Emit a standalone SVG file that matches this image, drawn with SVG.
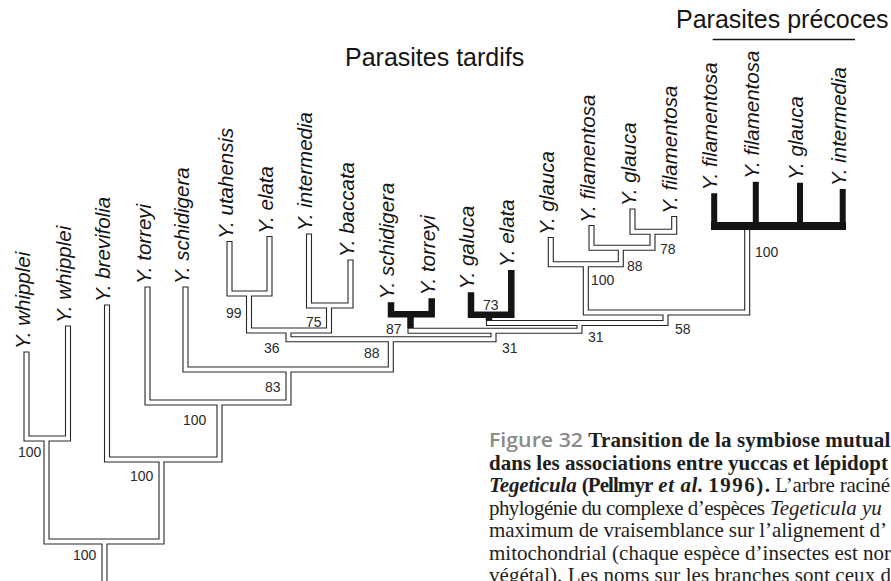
<svg xmlns="http://www.w3.org/2000/svg" xmlns:xlink="http://www.w3.org/1999/xlink" width="891" height="581" viewBox="0 0 891 581">
<style>
.o{fill:none;stroke:#262626;stroke-width:6.1;stroke-linecap:square;stroke-linejoin:miter}
.i{fill:none;stroke:#fff;stroke-width:3.9;stroke-linecap:square;stroke-linejoin:miter}
.blk{fill:none;stroke:#141414;stroke-width:6.5;stroke-linecap:butt;stroke-linejoin:miter}
.lf{font-family:"Liberation Sans",Arial,sans-serif;font-style:italic;font-size:20.5px;fill:#151515}
.bs{font-family:"Liberation Sans",Arial,sans-serif;font-size:14px;fill:#2a2a2a}
.hd{font-family:"Liberation Sans",Arial,sans-serif;font-size:25px;fill:#151515}
.cp{font-family:"Liberation Serif","Times New Roman",serif;font-size:21px;fill:#1e1e1e}
.b{font-weight:bold}
.it{font-style:italic}
.fig{font-family:"Open Sans","Liberation Sans",sans-serif;font-weight:600;font-size:20px;fill:#8a8a8a}
</style>
<defs>
<path id="tubes" d="M26.5,354.5V438.5M68,328.5V438.5M46.5,438.5V541.5M107,307.5V459.5M161.5,459.5V541.5M104.5,541.5V590M147.5,289.5V402.5M219.5,402.5V459.5M185.5,289.5V369.5M288.5,369.5V402.5M390.8,339.2V369.5M288.5,330.5V339.2M249,293.5V330.5M229.5,244V293.5M269.5,239V293.5M329,305.5V330.5M309,236.5V305.5M350.5,262.5V305.5M493.5,330.8V339.2M579.5,323V330.8M665.5,312.5V323M585.8,264.2V312.5M550.8,240V264.2M620.8,247.8V264.2M591.5,228V247.8M652.5,231.7V247.8M632.5,211.5V231.7M674.2,219V231.7M747.2,229V312.5M26.5,438.5H68M46.5,541.5H161.5M107,459.5H219.5M147.5,402.5H288.5M185.5,369.5H390.8M288.5,339.2H493.5M249,330.5H329M229.5,293.5H269.5M309,305.5H350.5M410.5,330.8H579.5M489,323H665.5M585.8,312.5H747.2M550.8,264.2H620.8M591.5,247.8H652.5M632.5,231.7H674.2"/>
</defs>
<g id="connectors">
<use xlink:href="#tubes" class="o"/>
<use xlink:href="#tubes" class="i"/>
<path class="blk" d="M391,302.3V314.2H431.7V298.3M410.5,314.2V328"/>
<path class="blk" d="M471,292.3V314.7H511.3V270M489,314.7V320.5"/>
<path class="blk" d="M714.2,193.3V226H842.7V189M755.8,181.7V226M800,182.7V226" style="stroke-width:6"/>
<path d="M711,226H846" style="stroke:#141414;stroke-width:8;fill:none"/>
</g>
<g id="headings">
<text class="hd" x="345" y="66">Parasites tardifs</text>
<text class="hd" x="676" y="28">Parasites précoces</text>
<line x1="712.7" y1="39.5" x2="855" y2="39.5" stroke="#151515" stroke-width="1.6"/>
</g>
<g id="leaves">
<g id="leaf1"><text class="lf" transform="translate(29.5,349) rotate(-90)">Y. whipplei</text></g>
<g id="leaf2"><text class="lf" transform="translate(71,323) rotate(-90)">Y. whipplei</text></g>
<g id="leaf3"><text class="lf" transform="translate(110,302) rotate(-90)">Y. brevifolia</text></g>
<g id="leaf4"><text class="lf" transform="translate(150.5,284) rotate(-90)">Y. torreyi</text></g>
<g id="leaf5"><text class="lf" transform="translate(188.5,284) rotate(-90)">Y. schidigera</text></g>
<g id="leaf6"><text class="lf" transform="translate(232.5,238.7) rotate(-90)">Y. utahensis</text></g>
<g id="leaf7"><text class="lf" transform="translate(272.5,233.7) rotate(-90)">Y. elata</text></g>
<g id="leaf8"><text class="lf" transform="translate(312,231) rotate(-90)">Y. intermedia</text></g>
<g id="leaf9"><text class="lf" transform="translate(353.5,257) rotate(-90)">Y. baccata</text></g>
<g id="leaf10"><text class="lf" transform="translate(394,299.3) rotate(-90)">Y. schidigera</text></g>
<g id="leaf11"><text class="lf" transform="translate(434.7,295.3) rotate(-90)">Y. torreyi</text></g>
<g id="leaf12"><text class="lf" transform="translate(474,289.3) rotate(-90)">Y. galuca</text></g>
<g id="leaf13"><text class="lf" transform="translate(514.3,267) rotate(-90)">Y. elata</text></g>
<g id="leaf14"><text class="lf" transform="translate(553.8,234.7) rotate(-90)">Y. glauca</text></g>
<g id="leaf15"><text class="lf" transform="translate(594.5,222.7) rotate(-90)">Y. filamentosa</text></g>
<g id="leaf16"><text class="lf" transform="translate(635.5,206) rotate(-90)">Y. glauca</text></g>
<g id="leaf17"><text class="lf" transform="translate(677.2,213.7) rotate(-90)">Y. filamentosa</text></g>
<g id="leaf18"><text class="lf" transform="translate(717.2,190.3) rotate(-90)">Y. filamentosa</text></g>
<g id="leaf19"><text class="lf" transform="translate(758.8,178.7) rotate(-90)">Y. filamentosa</text></g>
<g id="leaf20"><text class="lf" transform="translate(803,179.7) rotate(-90)">Y. glauca</text></g>
<g id="leaf21"><text class="lf" transform="translate(845.7,186) rotate(-90)">Y. intermedia</text></g>
</g>
<g id="support">
<text class="bs" x="18" y="457">100</text>
<text class="bs" x="73" y="560">100</text>
<text class="bs" x="130" y="481">100</text>
<text class="bs" x="183" y="425">100</text>
<text class="bs" x="265" y="392">83</text>
<text class="bs" x="364" y="358">88</text>
<text class="bs" x="264" y="353">36</text>
<text class="bs" x="226" y="318">99</text>
<text class="bs" x="306" y="326.5">75</text>
<text class="bs" x="386" y="334">87</text>
<text class="bs" x="483" y="310">73</text>
<text class="bs" x="502" y="353">31</text>
<text class="bs" x="588" y="341.5">31</text>
<text class="bs" x="675" y="334">58</text>
<text class="bs" x="591" y="285">100</text>
<text class="bs" x="627" y="271">88</text>
<text class="bs" x="660" y="254">78</text>
<text class="bs" x="755" y="257">100</text>
</g>
<g id="caption">
<text class="fig" x="489" y="447" textLength="94" lengthAdjust="spacingAndGlyphs">Figure 32</text>
<text class="cp b" x="588.3" y="447" textLength="302" lengthAdjust="spacing">Transition de la symbiose mutual</text>
<text class="cp b" x="489" y="469.5" textLength="399" lengthAdjust="spacing">dans les associations entre yuccas et lépidopt</text>
<text class="cp b it" x="489" y="492" textLength="87.7" lengthAdjust="spacing">Tegeticula</text>
<text class="cp b" x="581.7" y="492" textLength="71.6" lengthAdjust="spacing">(Pellmyr</text>
<text class="cp b it" x="658.3" y="492" textLength="45" lengthAdjust="spacing">et al.</text>
<text class="cp b" x="708.3" y="492" textLength="61.7" lengthAdjust="spacing">1996).</text>
<text class="cp" x="775" y="492" textLength="115" lengthAdjust="spacing">L’arbre raciné</text>
<text class="cp" x="489" y="514.5" textLength="276" lengthAdjust="spacing">phylogénie du complexe d’espèces</text>
<text class="cp it" x="770" y="514.5">Tegeticula yu</text>
<text class="cp" x="489" y="537" textLength="398" lengthAdjust="spacing">maximum de vraisemblance sur l’alignement d’</text>
<text class="cp" x="489" y="559.5" textLength="402" lengthAdjust="spacing">mitochondrial (chaque espèce d’insectes est nor</text>
<text class="cp" x="489" y="582" textLength="402" lengthAdjust="spacing">végétal). Les noms sur les branches sont ceux d</text>
</g>
</svg>
